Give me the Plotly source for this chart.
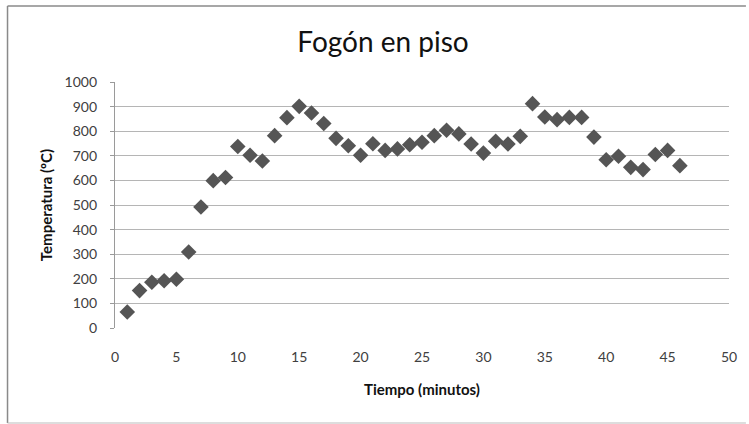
import plotly.graph_objects as go

minutes = list(range(1, 47))
temperature = [65, 152, 186, 192, 198, 309, 492, 599, 612, 738,
               702, 679, 782, 855, 901, 874, 831, 771, 741, 702,
               749, 722, 728, 745, 755, 782, 804, 789, 748, 711,
               759, 748, 779, 912, 858, 847, 856, 856, 776, 684,
               698, 653, 644, 705, 722, 660]

x_ticks = [0, 5, 10, 15, 20, 25, 30, 35, 40, 45, 50]
y_ticks = [0, 100, 200, 300, 400, 500, 600, 700, 800, 900, 1000]

W, H = 749, 424
ml, mr, mt, mb = 115, 17, 82, 96
pw, ph = W - ml - mr, H - mt - mb

def px(x):
    return (x - ml) / pw

def py(y):
    return (H - mb - y) / ph

fig = go.Figure()
fig.add_trace(go.Scatter(
    x=minutes, y=temperature, mode="markers",
    marker=dict(symbol="diamond", size=12, color="#555555", line=dict(width=0)),
    showlegend=False,
))

font_family = "Lato, 'Open Sans', sans-serif"
fig.update_layout(
    width=W, height=H,
    margin=dict(l=ml, r=mr, t=mt, b=mb),
    paper_bgcolor="white", plot_bgcolor="white",
    font=dict(family=font_family, color="#404040", size=14),
    title=dict(text="Fogón en piso", x=383 / W, xanchor="center",
               y=1 - 42 / H, yanchor="middle",
               font=dict(size=28, color="#111111", family=font_family)),
    xaxis=dict(range=[0, 50], tickvals=x_ticks, showgrid=False, zeroline=False,
               showline=False, ticks="", ticklabelstandoff=19,
               title=dict(text="<b>Tiempo (minutos)</b>", standoff=20,
                          font=dict(size=15, color="#111111"))),
    yaxis=dict(range=[0, 1000], tickvals=y_ticks, showgrid=True,
               gridcolor="#b5b5b5", gridwidth=1.3, zeroline=False,
               showline=True, linecolor="#9a9a9a", linewidth=1.3,
               ticks="outside", ticklen=4, tickcolor="#9a9a9a",
               ticklabelstandoff=10,
               title=dict(text="<b>Temperatura (ºC)</b>", standoff=8,
                          font=dict(size=15, color="#111111"))),
    shapes=[
        dict(type="line", xref="paper", yref="paper", x0=px(7), x1=px(749),
             y0=py(6), y1=py(6), line=dict(color="#8a8a8a", width=1.5)),
        dict(type="line", xref="paper", yref="paper", x0=px(7), x1=px(7),
             y0=py(6), y1=py(423), line=dict(color="#8a8a8a", width=1.5)),
        dict(type="line", xref="paper", yref="paper", x0=px(7), x1=px(749),
             y0=py(423), y1=py(423), line=dict(color="#bbbbbb", width=1)),
    ],
)

fig.write_html("out.html", config={"displayModeBar": False},
               post_script="document.body.style.margin='0';document.body.style.overflow='hidden';")
